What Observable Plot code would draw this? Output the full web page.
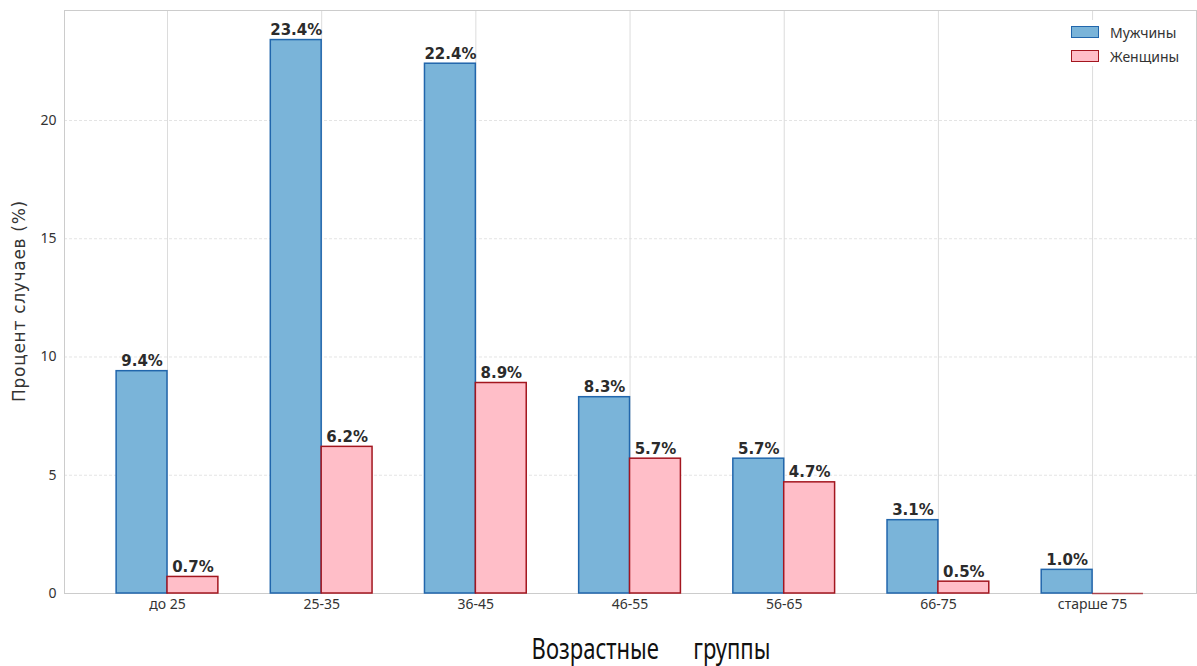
<!DOCTYPE html>
<html>
<head>
<meta charset="utf-8">
<script src="https://cdn.jsdelivr.net/npm/d3@7"></script>
<script src="https://cdn.jsdelivr.net/npm/@observablehq/plot@0.6"></script>
<style>
  html, body { margin: 0; padding: 0; background: #fff; }
  #wrap { position: relative; width: 1197px; height: 666px; overflow: hidden; }
  #ytitle {
    position: absolute; left: 19px; top: 301px;
    transform: translate(-50%, -50%) rotate(-90deg);
    font-family: "DejaVu Sans", sans-serif; font-size: 17px; letter-spacing: 0.7px; color: #333;
    white-space: nowrap; line-height: 1;
  }
  #xtitle {
    position: absolute; left: 651px; top: 647px;
    transform: translate(-50%, -50%) scaleX(0.76);
    font-family: "Noto Sans", sans-serif; font-size: 29px; color: #111;
    white-space: pre; line-height: 1;
  }
  #legend {
    position: absolute; left: 1062px; top: 20px; width: 128px; height: 46px;
    background: #fff;
    font-family: "Noto Sans", sans-serif; font-size: 14px; color: #333;
  }
  #legend .item { position: absolute; left: 9px; height: 14px; display: flex; align-items: center; }
  #legend .sw { width: 26px; height: 10px; margin-right: 11px; }
</style>
</head>
<body>
<div id="wrap">
  <div id="chart"></div>
  <div id="ytitle">Процент случаев (%)</div>
  <div id="xtitle">Возрастные      группы</div>
  <div id="legend"></div>
</div>
<script>
// Age groups and share of cases (%) by sex
const categories = ["до 25", "25-35", "36-45", "46-55", "56-65", "66-75", "старше 75"];
const menValues = [9.4, 23.4, 22.4, 8.3, 5.7, 3.1, 1.0];
const womenValues = [0.7, 6.2, 8.9, 5.7, 4.7, 0.5, 0.0];
const seriesNames = ["Мужчины", "Женщины"];
const yTicks = [0, 5, 10, 15, 20];

const fills = ["#7ab4d9", "#ffbec8"];
const strokes = ["#2166ac", "#a3161f"];
const barWidth = 0.33;

const rows = [];
categories.forEach((c, i) => {
  rows.push({i, series: 0, value: menValues[i]});
  rows.push({i, series: 1, value: womenValues[i]});
});
const left = d => d.i + (d.series === 0 ? -barWidth : 0);
const right = d => d.i + (d.series === 0 ? 0 : barWidth);

const chart = Plot.plot({
  width: 1197,
  height: 666,
  marginLeft: 64,
  marginRight: 1,
  marginTop: 10,
  marginBottom: 73,
  style: {fontFamily: "Noto Sans, sans-serif", fontSize: "14px", color: "#333", background: "#fff"},
  x: {domain: [-0.668, 6.674]},
  y: {domain: [0, 24.65]},
  marks: [
    Plot.gridY(yTicks.filter(t => t > 0), {stroke: "#e4e4e4", strokeOpacity: 1, strokeDasharray: "3,2"}),
    Plot.gridX(d3.range(categories.length), {stroke: "#dcdcdc", strokeOpacity: 1}),
    Plot.frame({stroke: "#cccccc"}),
    Plot.rect(rows.filter(d => d.value > 0), {
      x1: left,
      x2: right,
      y1: 0,
      y2: "value",
      fill: d => fills[d.series],
      stroke: d => strokes[d.series],
      strokeWidth: 1.5
    }),
    // zero-valued bars collapse to an outline on the baseline
    Plot.ruleY(rows.filter(d => d.value === 0), {
      x1: left,
      x2: right,
      y: "value",
      stroke: d => strokes[d.series],
      strokeWidth: 1.5,
      strokeOpacity: 0.75
    }),
    Plot.text(rows.filter(d => d.value > 0), {
      x: d => d.i + (d.series === 0 ? -barWidth / 2 : barWidth / 2),
      y: "value",
      text: d => d.value.toFixed(1) + "%",
      lineAnchor: "bottom",
      dy: -5,
      fontFamily: "DejaVu Sans, sans-serif",
      fontWeight: "bold",
      fontSize: 15,
      fill: "#2b2b2b"
    }),
    Plot.axisX(d3.range(categories.length), {
      tickFormat: i => categories[i],
      tickSize: 0,
      tickPadding: 6,
      label: null,
      fontSize: 14
    }),
    Plot.axisY(yTicks, {
      tickSize: 0,
      tickPadding: 8,
      label: null,
      fontSize: 14
    })
  ]
});
document.getElementById("chart").appendChild(chart);

// Legend
const legend = document.getElementById("legend");
seriesNames.forEach((name, k) => {
  const item = document.createElement("div");
  item.className = "item";
  item.style.top = (5 + k * 24) + "px";
  const sw = document.createElement("span");
  sw.className = "sw";
  sw.style.background = fills[k];
  sw.style.border = "1.5px solid " + strokes[k];
  item.appendChild(sw);
  const label = document.createElement("span");
  label.textContent = name;
  item.appendChild(label);
  legend.appendChild(item);
});
</script>
</body>
</html>
